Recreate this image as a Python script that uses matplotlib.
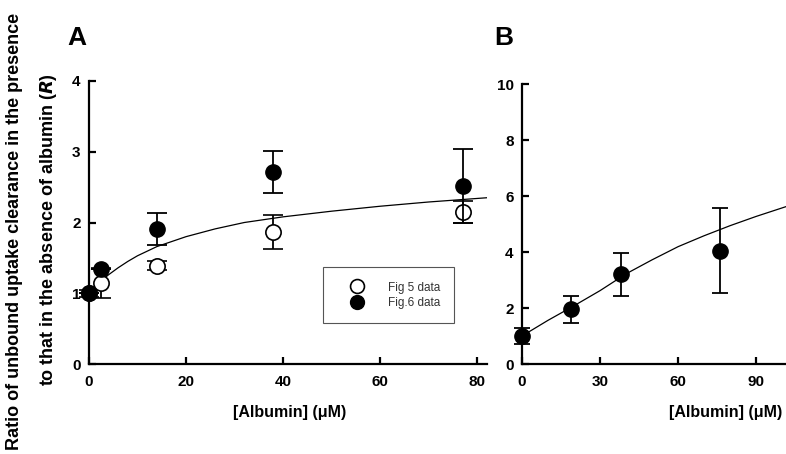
import matplotlib

matplotlib.use("Agg")
import matplotlib.pyplot as plt

# panel A: ratio R vs albumin, two data sets
a_x = [0, 2.5, 14, 38, 77]
fig5_r = [1.0, 1.14, 1.39, 1.87, 2.15]
fig5_err = [0.05, 0.21, 0.06, 0.24, 0.16]
fig6_r = [1.0, 1.34, 1.91, 2.71, 2.52]
fig6_err = [0.0, 0.0, 0.23, 0.30, 0.52]
a_fit_x = [0, 1, 2, 4, 6, 8, 10, 14, 20, 26, 32, 40, 50, 60, 70, 82]
a_fit_r = [1.0, 1.07, 1.14, 1.26, 1.36, 1.45, 1.53, 1.66, 1.80, 1.91, 2.00, 2.08, 2.16, 2.23, 2.29, 2.35]

# panel B
b_x = [0, 19, 38, 76]
b_r = [1.0, 1.95, 3.2, 4.05]
b_err = [0.27, 0.49, 0.76, 1.52]
b_fit_x = [0, 10, 20, 30, 40, 50, 60, 70, 80, 90, 101.5]
b_fit_r = [1.0, 1.56, 2.08, 2.62, 3.22, 3.72, 4.19, 4.58, 4.94, 5.27, 5.62]

plt.rcParams["font.family"] = ["Liberation Sans", "DejaVu Sans"]

fig = plt.figure(figsize=(7.86, 4.54), dpi=100)
axA = fig.add_axes([89 / 786, 1 - 364 / 454, 398 / 786, 283 / 454])
axB = fig.add_axes([522 / 786, 1 - 364 / 454, 264 / 786, 280 / 454])


def style(ax):
    for s in ("top", "right"):
        ax.spines[s].set_visible(False)
    for s in ("left", "bottom"):
        ax.spines[s].set_linewidth(1.6)
    ax.tick_params(direction="in", length=5, width=1.6, labelsize=11)
    ax.tick_params(axis="x", pad=8)
    ax.tick_params(axis="y", pad=6)
    for lab in ax.get_xticklabels() + ax.get_yticklabels():
        lab.set_fontweight("bold")


mk = dict(marker="o", markersize=11, capsize=7, elinewidth=1.3, capthick=1.3,
          ecolor="black", linestyle="none", clip_on=False)

axA.plot(a_fit_x, a_fit_r, color="black", lw=0.9, zorder=2)
axA.errorbar(a_x, fig5_r, yerr=fig5_err, mfc="white", mec="black", mew=1.2,
             zorder=3, label="Fig 5 data", **mk)
axA.errorbar(a_x, fig6_r, yerr=fig6_err, mfc="black", mec="black",
             zorder=4, label="Fig.6 data", **mk)
axA.set_xlim(0, 82)
axA.set_ylim(0, 4)
axA.set_xticks([0, 20, 40, 60, 80])
axA.set_yticks([0, 1, 2, 3, 4])
style(axA)
handles = [
    plt.Line2D([], [], marker="o", ls="none", ms=10, mfc="white", mec="black", mew=1.2),
    plt.Line2D([], [], marker="o", ls="none", ms=10, mfc="black", mec="black"),
]
leg = axA.legend(handles, ["Fig 5 data", "Fig.6 data"], loc="lower left",
                 bbox_to_anchor=(0.587, 0.144), fancybox=False, framealpha=1,
                 edgecolor="#555555", fontsize=8.5, handletextpad=0.9,
                 borderpad=1.2, labelspacing=0.3, borderaxespad=0,
                 handlelength=3.4)
leg.get_frame().set_linewidth(0.8)
for t in leg.get_texts():
    t.set_color("#333333")

axB.plot(b_fit_x, b_fit_r, color="black", lw=0.9, zorder=2, clip_on=False)
axB.errorbar(b_x, b_r, yerr=b_err, mfc="black", mec="black", zorder=4,
             **{**mk, "capsize": 6})
axB.set_xlim(0, 101.5)
axB.set_ylim(0, 10)
axB.set_xticks([0, 30, 60, 90])
axB.set_yticks([0, 2, 4, 6, 8, 10])
style(axB)

fig.text(67 / 786, 1 - 38 / 454, "A", fontsize=19, fontweight="bold", va="center")
fig.text(494 / 786, 1 - 38 / 454, "B", fontsize=19, fontweight="bold", va="center")

fig.text(290 / 786, 1 - 413 / 454, "[Albumin] (μM)", fontsize=11.5, fontweight="bold",
         ha="center", va="center")
fig.text(726 / 786, 1 - 413 / 454, "[Albumin] (μM)", fontsize=11.5, fontweight="bold",
         ha="center", va="center")

fig.text(15 / 786, 1 - 231 / 454, "Ratio of unbound uptake clearance in the presence",
         rotation=90, fontsize=13, fontweight="bold", ha="center", va="center")
fig.text(49 / 786, 1 - 230 / 454, r"to that in the absence of albumin ($\mathbfit{R}$)",
         rotation=90, fontsize=13, fontweight="bold", ha="center", va="center")

fig.savefig("out.png", dpi=100)
